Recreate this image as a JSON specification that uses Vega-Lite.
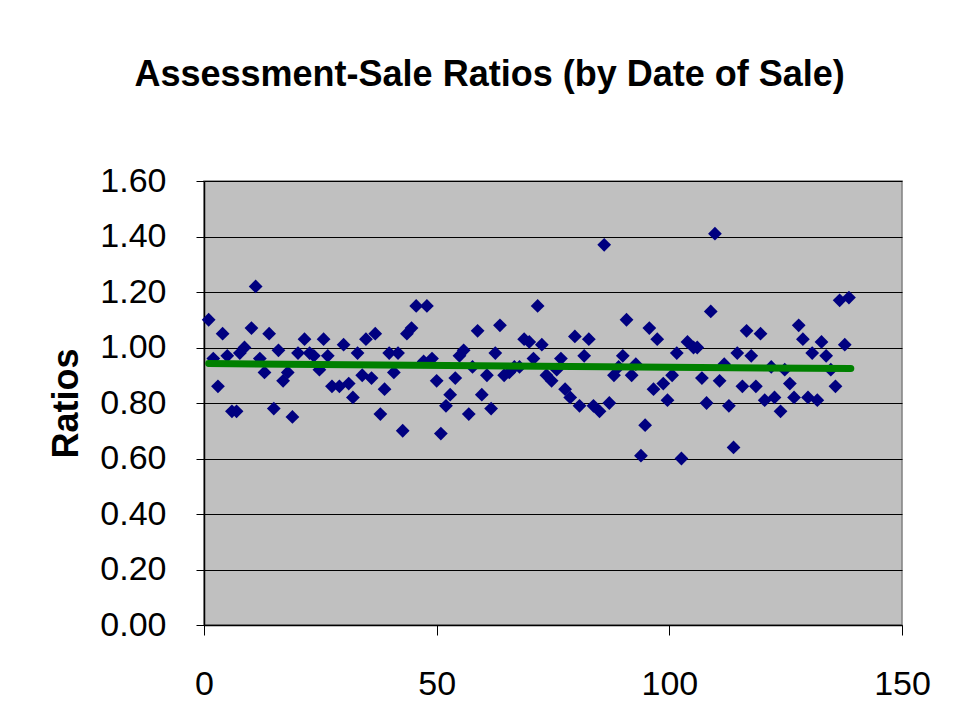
{
  "$schema": "https://vega.github.io/schema/vega-lite/v6.json",
  "autosize": {"type": "none"},
  "width": 698,
  "height": 444,
  "padding": {"left": 204, "top": 181, "right": 58, "bottom": 96},
  "background": "white",
  "title": {
    "text": "Assessment-Sale Ratios (by Date of Sale)",
    "font": "Liberation Sans",
    "fontSize": 36,
    "fontWeight": "bold",
    "color": "black",
    "anchor": "middle",
    "frame": "bounds",
    "offset": 70
  },
  "datasets": {
    "points": [
      {"n": 1, "ratio": 1.10}, {"n": 2, "ratio": 0.96}, {"n": 3, "ratio": 0.86}, {"n": 4, "ratio": 1.05},
      {"n": 5, "ratio": 0.97}, {"n": 6, "ratio": 0.77}, {"n": 7, "ratio": 0.77}, {"n": 7.7, "ratio": 0.98},
      {"n": 8.7, "ratio": 1.00}, {"n": 10.2, "ratio": 1.07}, {"n": 11.1, "ratio": 1.22}, {"n": 12, "ratio": 0.96},
      {"n": 13, "ratio": 0.91}, {"n": 14, "ratio": 1.05}, {"n": 15, "ratio": 0.78}, {"n": 16, "ratio": 0.99},
      {"n": 17, "ratio": 0.88}, {"n": 18, "ratio": 0.91}, {"n": 19, "ratio": 0.75}, {"n": 20.2, "ratio": 0.98},
      {"n": 21.6, "ratio": 1.03}, {"n": 22.7, "ratio": 0.98}, {"n": 23.6, "ratio": 0.97}, {"n": 24.8, "ratio": 0.92},
      {"n": 25.7, "ratio": 1.03}, {"n": 26.6, "ratio": 0.97}, {"n": 27.5, "ratio": 0.86}, {"n": 29.1, "ratio": 0.86},
      {"n": 30, "ratio": 1.01}, {"n": 31.1, "ratio": 0.87}, {"n": 32, "ratio": 0.82}, {"n": 33, "ratio": 0.98},
      {"n": 34, "ratio": 0.90}, {"n": 34.8, "ratio": 1.03}, {"n": 36, "ratio": 0.89}, {"n": 36.8, "ratio": 1.05},
      {"n": 37.9, "ratio": 0.76}, {"n": 38.8, "ratio": 0.85}, {"n": 39.8, "ratio": 0.98}, {"n": 40.8, "ratio": 0.91},
      {"n": 41.7, "ratio": 0.98}, {"n": 42.7, "ratio": 0.70}, {"n": 43.6, "ratio": 1.05}, {"n": 44.6, "ratio": 1.07},
      {"n": 45.6, "ratio": 1.15}, {"n": 47.2, "ratio": 0.95}, {"n": 47.9, "ratio": 1.15}, {"n": 49, "ratio": 0.96},
      {"n": 50, "ratio": 0.88}, {"n": 50.9, "ratio": 0.69}, {"n": 52, "ratio": 0.79}, {"n": 52.9, "ratio": 0.83},
      {"n": 54, "ratio": 0.89}, {"n": 54.9, "ratio": 0.97}, {"n": 55.8, "ratio": 0.99}, {"n": 56.9, "ratio": 0.76},
      {"n": 57.7, "ratio": 0.93}, {"n": 58.8, "ratio": 1.06}, {"n": 59.7, "ratio": 0.83}, {"n": 60.8, "ratio": 0.90},
      {"n": 61.7, "ratio": 0.78}, {"n": 62.6, "ratio": 0.98}, {"n": 63.6, "ratio": 1.08}, {"n": 64.5, "ratio": 0.90},
      {"n": 65.6, "ratio": 0.91}, {"n": 66.7, "ratio": 0.93}, {"n": 67.8, "ratio": 0.93}, {"n": 68.8, "ratio": 1.03},
      {"n": 69.9, "ratio": 1.02}, {"n": 70.8, "ratio": 0.96}, {"n": 71.7, "ratio": 1.15}, {"n": 72.6, "ratio": 1.01},
      {"n": 73.6, "ratio": 0.90}, {"n": 74.7, "ratio": 0.88}, {"n": 75.8, "ratio": 0.92}, {"n": 76.7, "ratio": 0.96},
      {"n": 77.6, "ratio": 0.85}, {"n": 78.7, "ratio": 0.82}, {"n": 79.7, "ratio": 1.04}, {"n": 80.7, "ratio": 0.79},
      {"n": 81.7, "ratio": 0.97}, {"n": 82.7, "ratio": 1.03}, {"n": 83.7, "ratio": 0.79}, {"n": 85, "ratio": 0.77},
      {"n": 86, "ratio": 1.37}, {"n": 87.1, "ratio": 0.80}, {"n": 88.1, "ratio": 0.90}, {"n": 89.1, "ratio": 0.93},
      {"n": 90, "ratio": 0.97}, {"n": 90.8, "ratio": 1.10}, {"n": 91.9, "ratio": 0.90}, {"n": 92.8, "ratio": 0.94},
      {"n": 93.9, "ratio": 0.61}, {"n": 94.8, "ratio": 0.72}, {"n": 95.7, "ratio": 1.07}, {"n": 96.6, "ratio": 0.85},
      {"n": 97.4, "ratio": 1.03}, {"n": 98.7, "ratio": 0.87}, {"n": 99.6, "ratio": 0.81}, {"n": 100.6, "ratio": 0.90},
      {"n": 101.6, "ratio": 0.98}, {"n": 102.6, "ratio": 0.60}, {"n": 103.9, "ratio": 1.02}, {"n": 105.2, "ratio": 1.00},
      {"n": 106, "ratio": 1.00}, {"n": 107, "ratio": 0.89}, {"n": 108, "ratio": 0.80}, {"n": 108.9, "ratio": 1.13},
      {"n": 109.8, "ratio": 1.41}, {"n": 110.8, "ratio": 0.88}, {"n": 111.8, "ratio": 0.94}, {"n": 112.8, "ratio": 0.79},
      {"n": 113.8, "ratio": 0.64}, {"n": 114.6, "ratio": 0.98}, {"n": 115.7, "ratio": 0.86}, {"n": 116.6, "ratio": 1.06},
      {"n": 117.6, "ratio": 0.97}, {"n": 118.6, "ratio": 0.86}, {"n": 119.6, "ratio": 1.05}, {"n": 120.5, "ratio": 0.81},
      {"n": 121.9, "ratio": 0.93}, {"n": 122.6, "ratio": 0.82}, {"n": 123.9, "ratio": 0.77}, {"n": 124.8, "ratio": 0.92},
      {"n": 125.9, "ratio": 0.87}, {"n": 126.8, "ratio": 0.82}, {"n": 127.8, "ratio": 1.08}, {"n": 128.7, "ratio": 1.03},
      {"n": 129.8, "ratio": 0.82}, {"n": 130.7, "ratio": 0.98}, {"n": 131.8, "ratio": 0.81}, {"n": 132.7, "ratio": 1.02},
      {"n": 133.7, "ratio": 0.97}, {"n": 134.7, "ratio": 0.92}, {"n": 135.7, "ratio": 0.86}, {"n": 136.6, "ratio": 1.17},
      {"n": 137.7, "ratio": 1.01}, {"n": 138.6, "ratio": 1.18}
    ],
    "trend": [
      {"n": 1, "ratio": 0.942},
      {"n": 139, "ratio": 0.924}
    ]
  },
  "config": {
    "view": {"fill": "#C0C0C0", "stroke": "#808080", "strokeWidth": 1.5},
    "axis": {
      "labelFont": "Liberation Sans",
      "titleFont": "Liberation Sans",
      "labelColor": "black",
      "titleColor": "black",
      "domainColor": "black",
      "tickColor": "black"
    }
  },
  "layer": [
    {
      "data": {"name": "points"},
      "mark": {"type": "point", "shape": "diamond", "filled": true, "size": 190, "color": "#000080", "opacity": 1},
      "encoding": {
        "x": {
          "field": "n", "type": "quantitative",
          "scale": {"domain": [0, 150], "nice": false, "zero": true},
          "axis": {
            "values": [0, 50, 100, 150], "title": null, "grid": false,
            "labelFontSize": 34, "labelPadding": 32, "tickSize": 10, "domainWidth": 1.5,
            "labelFlush": false
          }
        },
        "y": {
          "field": "ratio", "type": "quantitative",
          "scale": {"domain": [0, 1.6], "nice": false},
          "axis": {
            "values": [0, 0.2, 0.4, 0.6, 0.8, 1.0, 1.2, 1.4, 1.6], "format": ".2f",
            "title": "Ratios", "titleFontSize": 36, "titleFontWeight": "bold", "titlePadding": 14,
            "labelFontSize": 34, "labelPadding": 30, "tickSize": 8, "domainWidth": 1.5,
            "grid": true, "gridColor": "black", "gridWidth": 1, "gridOpacity": 1,
            "labelFlush": false
          }
        }
      }
    },
    {
      "data": {"name": "trend"},
      "mark": {"type": "line", "color": "#008000", "strokeWidth": 7, "strokeCap": "round"},
      "encoding": {
        "x": {"field": "n", "type": "quantitative"},
        "y": {"field": "ratio", "type": "quantitative"}
      }
    }
  ]
}
